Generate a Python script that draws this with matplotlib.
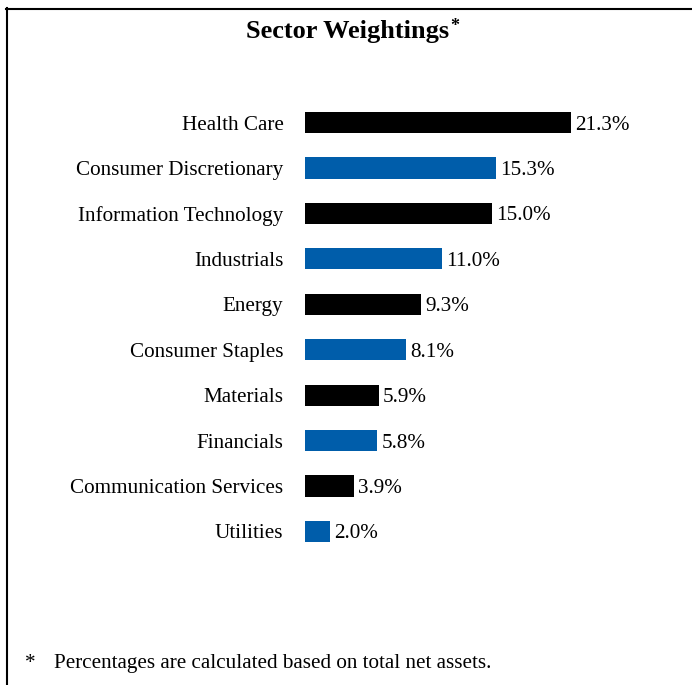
import matplotlib
matplotlib.use("Agg")
import matplotlib.pyplot as plt
from matplotlib.lines import Line2D

categories = ["Health Care", "Consumer Discretionary", "Information Technology",
              "Industrials", "Energy", "Consumer Staples", "Materials",
              "Financials", "Communication Services", "Utilities"]
values = [21.3, 15.3, 15.0, 11.0, 9.3, 8.1, 5.9, 5.8, 3.9, 2.0]
colors = ["#000000", "#005DAA"] * 5
title = "Sector Weightings"
footnote = "Percentages are calculated based on total net assets."

plt.rcParams['font.family'] = ['Liberation Serif', 'DejaVu Serif']
FS = 15.2

W, H = 692, 685
fig = plt.figure(figsize=(W / 100, H / 100), dpi=100)

x0 = 305
px_per_unit = 12.49
xmax = 30
top_px = 122.5 - 22.7
bot_px = 531.5 + 22.7
ax = fig.add_axes([x0 / W, 1 - bot_px / H, xmax * px_per_unit / W, (bot_px - top_px) / H])

ypos = list(range(len(categories)))
ax.barh(ypos, values, height=0.465, color=colors)
ax.set_xlim(0, xmax)
ax.set_ylim(len(categories) - 0.5, -0.5)
ax.set_yticks(ypos)
ax.set_yticklabels(categories, fontsize=FS, va='center_baseline')
ax.tick_params(axis='y', length=0, pad=15.5)
ax.set_xticks([])
for s in ax.spines.values():
    s.set_visible(False)

for i, v in enumerate(values):
    ax.annotate(f"{v:.1f}%", (v, i), xytext=(3, 0), textcoords='offset points',
                va='center_baseline', ha='left', fontsize=FS)

# title with superscript asterisk
t = fig.text(347.5 / W, 1 - 38 / H, title, ha='center', va='baseline',
             fontsize=19, fontweight='bold')
fig.canvas.draw()
bb = t.get_window_extent()
fig.text((bb.x1 + 1) / W, 1 - 31 / H, "*", ha='left', va='baseline',
         fontsize=13, fontweight='bold')

# footnote
fig.text(30 / W, 1 - 661 / H, "*", ha='center', va='center_baseline', fontsize=FS)
fig.text(54 / W, 1 - 661 / H, footnote, ha='left', va='center_baseline', fontsize=FS)

# border (top and left)
fig.add_artist(Line2D([6 / W, 1], [1 - 8.5 / H, 1 - 8.5 / H], color='black', lw=1.5,
                      transform=fig.transFigure))
fig.add_artist(Line2D([6.5 / W, 6.5 / W], [0, 1 - 8 / H], color='black', lw=1.5,
                      transform=fig.transFigure))

fig.savefig("out.png", dpi=100)
